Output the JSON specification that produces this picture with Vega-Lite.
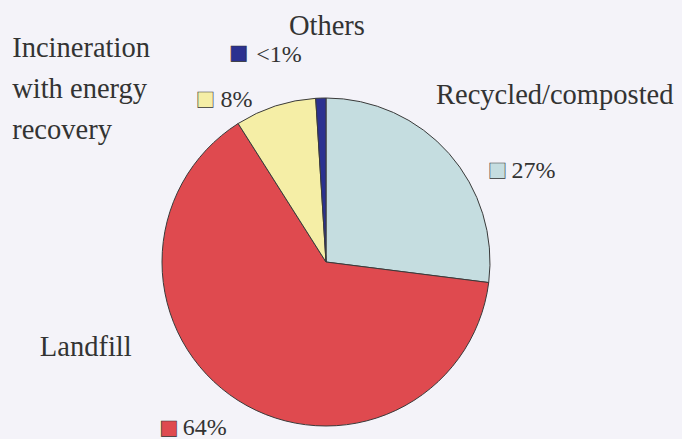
{
  "$schema": "https://vega.github.io/schema/vega-lite/v6.json",
  "width": 652,
  "height": 354,
  "autosize": "none",
  "padding": {"left": 0, "top": 85, "right": 30, "bottom": 0},
  "background": "#f4f3f9",
  "view": {"stroke": null},
  "data": {
    "values": [
      {"category": "Recycled/composted", "name": "Recycled/composted", "share": 27, "pct": "27%", "rank": 1},
      {"category": "Landfill", "name": "Landfill", "share": 64, "pct": "64%", "rank": 2},
      {"category": "Incineration with energy recovery", "name": "Incineration\nwith energy\nrecovery", "share": 8, "pct": "8%", "rank": 3},
      {"category": "Others", "name": "Others", "share": 1, "pct": "<1%", "rank": 4}
    ]
  },
  "encoding": {
    "theta": {"field": "share", "type": "quantitative", "stack": true},
    "order": {"field": "rank", "type": "quantitative"}
  },
  "layer": [
    {
      "mark": {"type": "arc", "outerRadius": 164, "stroke": "#3a3a3a", "strokeWidth": 1},
      "encoding": {
        "color": {
          "field": "category", "type": "nominal", "legend": null,
          "scale": {
            "domain": ["Recycled/composted", "Landfill", "Incineration with energy recovery", "Others"],
            "range": ["#c5dde0", "#df4a4f", "#f5eea6", "#2b3190"]
          }
        }
      }
    },
    {
      "mark": {"type": "text", "radius": 227, "dx": 8, "dy": 0, "align": "center", "baseline": "alphabetic", "font": "Liberation Serif", "fontSize": 28.5, "fill": "#333333"},
      "encoding": {"text": {"condition": {"test": "datum.category === 'Others'", "field": "name"}, "value": ""}}
    },
    {
      "mark": {"type": "text", "radius": 200, "dx": -18, "dy": 0, "align": "right", "baseline": "alphabetic", "font": "Liberation Serif", "fontSize": 24, "fill": "#333333"},
      "encoding": {"text": {"condition": {"test": "datum.category === 'Others'", "field": "pct"}, "value": ""}}
    },
    {
      "mark": {"type": "text", "radius": 200, "dx": -81, "dy": -9, "align": "center", "baseline": "middle", "font": "DejaVu Sans", "fontSize": 20, "fill": "#2b3190", "stroke": "#333333", "strokeWidth": 0.6},
      "encoding": {"text": {"condition": {"test": "datum.category === 'Others'", "value": "■"}, "value": ""}}
    },
    {
      "mark": {"type": "text", "radius": 200, "dx": -252, "dy": -15, "align": "left", "baseline": "alphabetic", "lineBreak": "\n", "lineHeight": 41, "font": "Liberation Serif", "fontSize": 28.5, "fill": "#333333"},
      "encoding": {"text": {"condition": {"test": "datum.rank === 3", "field": "name"}, "value": ""}}
    },
    {
      "mark": {"type": "text", "radius": 170, "dx": -21, "dy": 7, "align": "right", "baseline": "alphabetic", "font": "Liberation Serif", "fontSize": 24, "fill": "#333333"},
      "encoding": {"text": {"condition": {"test": "datum.rank === 3", "field": "pct"}, "value": ""}}
    },
    {
      "mark": {"type": "text", "radius": 170, "dx": -68, "dy": -1, "align": "center", "baseline": "middle", "font": "DejaVu Sans", "fontSize": 20, "fill": "#f5eea6", "stroke": "#333333", "strokeWidth": 0.6},
      "encoding": {"text": {"condition": {"test": "datum.rank === 3", "value": "■"}, "value": ""}}
    },
    {
      "mark": {"type": "text", "radius": 240, "dx": -70, "dy": 1, "align": "left", "baseline": "alphabetic", "font": "Liberation Serif", "fontSize": 28.5, "fill": "#333333"},
      "encoding": {"text": {"condition": {"test": "datum.rank === 1", "field": "name"}, "value": ""}}
    },
    {
      "mark": {"type": "text", "radius": 170, "dx": 58, "dy": 28, "align": "left", "baseline": "alphabetic", "font": "Liberation Serif", "fontSize": 24, "fill": "#333333"},
      "encoding": {"text": {"condition": {"test": "datum.rank === 1", "field": "pct"}, "value": ""}}
    },
    {
      "mark": {"type": "text", "radius": 170, "dx": 44, "dy": 20, "align": "center", "baseline": "middle", "font": "DejaVu Sans", "fontSize": 20, "fill": "#c5dde0", "stroke": "#333333", "strokeWidth": 0.6},
      "encoding": {"text": {"condition": {"test": "datum.rank === 1", "value": "■"}, "value": ""}}
    },
    {
      "mark": {"type": "text", "radius": 200, "dx": -179, "dy": -75, "align": "left", "baseline": "alphabetic", "font": "Liberation Serif", "fontSize": 28.5, "fill": "#333333"},
      "encoding": {"text": {"condition": {"test": "datum.rank === 2", "field": "name"}, "value": ""}}
    },
    {
      "mark": {"type": "text", "radius": 200, "dx": -36, "dy": 4, "align": "left", "baseline": "alphabetic", "font": "Liberation Serif", "fontSize": 24, "fill": "#333333"},
      "encoding": {"text": {"condition": {"test": "datum.rank === 2", "field": "pct"}, "value": ""}}
    },
    {
      "mark": {"type": "text", "radius": 200, "dx": -50, "dy": -3, "align": "center", "baseline": "middle", "font": "DejaVu Sans", "fontSize": 20, "fill": "#df4a4f", "stroke": "#333333", "strokeWidth": 0.6},
      "encoding": {"text": {"condition": {"test": "datum.rank === 2", "value": "■"}, "value": ""}}
    }
  ]
}
